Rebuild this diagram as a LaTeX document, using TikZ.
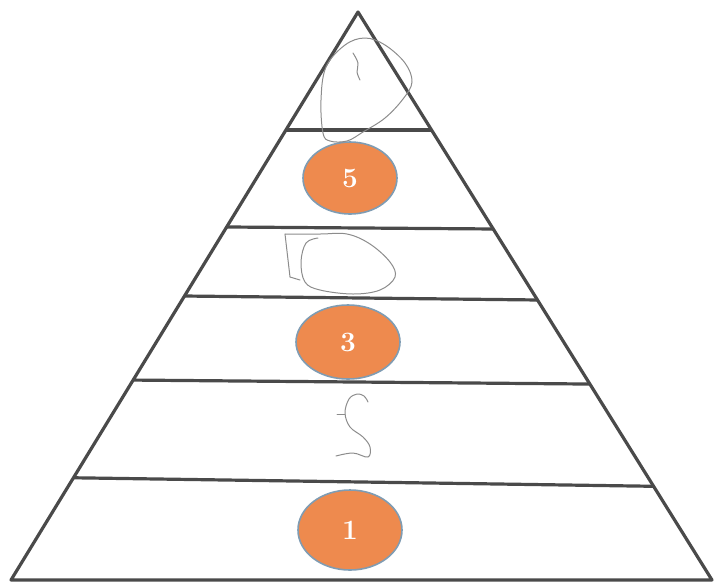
\documentclass[tikz,border=0pt]{standalone}
\usetikzlibrary{calc,shapes.geometric}
\definecolor{band}{HTML}{4A4A4A}
\definecolor{pyrorange}{HTML}{EE8A4E}
\definecolor{rimblue}{HTML}{7F9CB3}
\begin{document}
\begin{tikzpicture}[x=0.5pt,y=-0.5pt]
    \useasboundingbox (0,0) rectangle (717,585);

    \tikzset{num/.style={ellipse, fill=pyrorange, draw=rimblue, line width=0.8pt, text=white,
                         font=\fontsize{14}{16}\selectfont\bfseries, inner sep=0pt},
             pencil/.style={draw=black!45, line width=0.5pt, line cap=round, line join=round}}

    \coordinate (apex) at (358,12);
    \coordinate (bl) at (11,580);
    \coordinate (br) at (712,580);
    \draw[band, line width=1.6pt, line join=round] (bl) -- (apex) -- (br) -- cycle;

    % layer lines
    \foreach \fl/\fr in {0.2077/0.2077, 0.3785/0.3820, 0.5/0.507, 0.648/0.655, 0.820/0.835} {
        \draw[band, line width=1.6pt] ($(apex)!\fl!(bl)$) -- ($(apex)!\fr!(br)$);
    }

    \node[num, minimum width=47pt, minimum height=36pt] (five) at (350,178) {5};
    \node[num, minimum width=52pt, minimum height=37pt] (three) at (348,342) {3};
    \node[num, minimum width=52pt, minimum height=40pt] (one) at (350,530) {1};

    % pencil marks
    \draw[pencil] plot[smooth cycle, tension=0.6] coordinates {(323,133) (321,100) (326,67) (345,45)
        (365,38) (385,45) (405,63) (412,82) (403,99) (385,118) (363,132) (347,141) (330,141)};
    \draw[pencil] plot[smooth, tension=0.6] coordinates {(353,53) (358,63) (357,72) (360,80)};
    \draw[pencil] (285,234) -- (290,277) -- (300,280);
    \draw[pencil] plot[smooth, tension=0.6] coordinates {(285,234) (320,234) (347,234) (370,244)
        (390,262) (395,277) (380,290) (353,294) (320,290) (305,282) (301,262) (306,243) (318,238)};
    \draw[pencil] plot[smooth, tension=0.6] coordinates {(368,402) (364,396) (357,394) (349,399)
        (345,413) (350,427) (363,437) (370,447) (368,457) (353,453) (336,456)};
    \draw[pencil] (337,414) -- (345,414);
\end{tikzpicture}
\end{document}
